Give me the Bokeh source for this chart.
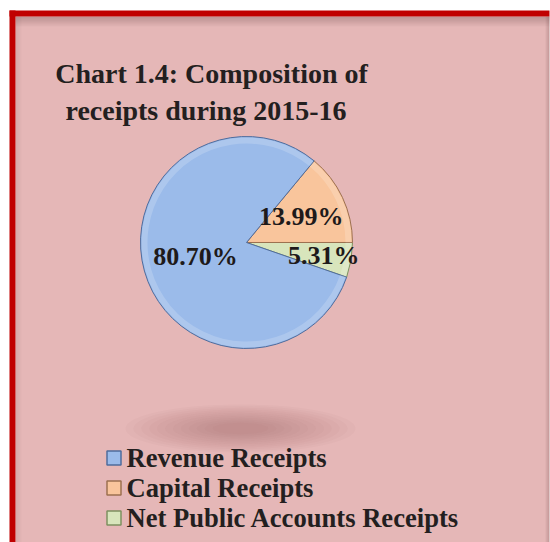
import math
from bokeh.plotting import figure
from bokeh.models import Range1d
from bokeh.core.properties import value
from bokeh.embed import file_html
from bokeh.resources import INLINE

# ---- data ----
title_lines = ["Chart 1.4: Composition of", "receipts during 2015-16"]
categories = ["Revenue Receipts", "Capital Receipts", "Net Public Accounts Receipts"]
shares = [80.70, 13.99, 5.31]
labels = ["80.70%", "13.99%", "5.31%"]
colors = ["#9BBBEA", "#F9C59C", "#D8E5BC"]
edge_colors = ["#4F6C9C", "#9C7050", "#7E9060"]

W, H = 550, 542
FONT = "Liberation Serif"


def px(x):  # page x -> data x
    return x


def py(y):  # page y -> data y
    return H - y


p = figure(width=W, height=H, output_backend="svg", toolbar_location=None,
           x_range=Range1d(0, W), y_range=Range1d(0, H), min_border=0)
p.axis.visible = False
p.grid.visible = False
p.outline_line_color = None
p.background_fill_color = "white"
p.border_fill_color = "white"

# panel background and red frame
p.quad(left=[px(15)], right=[px(549)], bottom=[0], top=[py(16)], fill_color="#E5B7B7", line_color=None)
# inner shadow below top frame
for i in range(10):
    p.quad(left=[px(15)], right=[px(549)], bottom=[py(17 + i)], top=[py(16 + i)],
           fill_color="#5a3a3a", fill_alpha=0.30 * (1 - i / 10), line_color=None)
for i in range(6):
    p.quad(left=[px(15 + i)], right=[px(16 + i)], bottom=[0], top=[py(16)],
           fill_color="#5a3a3a", fill_alpha=0.10 * (1 - i / 6), line_color=None)
for i in range(4):
    p.quad(left=[px(545 + i)], right=[px(546 + i)], bottom=[0], top=[py(16)],
           fill_color="#5a3a3a", fill_alpha=0.06 * (i + 1), line_color=None)
p.quad(left=[px(9)], right=[px(15)], bottom=[0], top=[py(10)], fill_color="#C00000", line_color=None)
p.quad(left=[px(9)], right=[px(549)], bottom=[py(16)], top=[py(10)], fill_color="#C00000", line_color=None)

# soft pie shadow (3-D effect of the original)
for k in range(12):
    f = 1 - k / 12
    p.ellipse(x=[px(240)], y=[py(428)], width=[40 + 190 * f], height=[8 + 40 * f],
              fill_color="#8a5a5a", fill_alpha=0.035, line_color=None)

# pie
cx, cy, R = px(246), py(242), 106
start_deg = -19.1
order = [2, 1, 0]  # counter-clockwise drawing order
total = sum(shares)
ang = math.radians(start_deg)
mids = {}
for i in order:
    sweep = shares[i] / total * 2 * math.pi
    p.wedge(x=[cx], y=[cy], radius=R, start_angle=ang, end_angle=ang + sweep,
            fill_color=colors[i], line_color=edge_colors[i], line_width=1)
    # bevel highlight near rim
    p.annular_wedge(x=[cx], y=[cy], inner_radius=R - 7, outer_radius=R - 1,
                    start_angle=ang, end_angle=ang + sweep,
                    fill_color="white", fill_alpha=0.18, line_color=None)
    mids[i] = ang + sweep / 2
    ang += sweep

label_frac = [0.50, 0.57, 0.74]
for i in range(3):
    r = R * label_frac[i]
    p.text(x=[cx + r * math.cos(mids[i])], y=[cy + r * math.sin(mids[i])], text=[labels[i]],
           text_font=value(FONT), text_font_style="bold", text_font_size="26px",
           text_color="#1E1A1A", text_align="center", text_baseline="middle")

# title
title_cx = [211, 205.5]
for j, line in enumerate(title_lines):
    p.text(x=[px(title_cx[j])], y=[py(73 + 37 * j)], text=[line], text_font=value(FONT),
           text_font_style="bold", text_font_size="28px", text_color="#231F20",
           text_align="center", text_baseline="alphabetic")

# legend
for i, cat in enumerate(categories):
    yy = py(457.5 + 30 * i)
    p.rect(x=[px(113.5)], y=[yy], width=14, height=14, width_units="screen", height_units="screen",
           fill_color=colors[i], line_color=edge_colors[i], line_width=1.5)
    p.text(x=[px(126)], y=[yy], text=[cat], text_font=value(FONT), text_font_style="bold",
           text_font_size="26.6px", text_color="#231F20", text_align="left", text_baseline="middle")

open("out.html", "w").write(file_html(p, INLINE))
